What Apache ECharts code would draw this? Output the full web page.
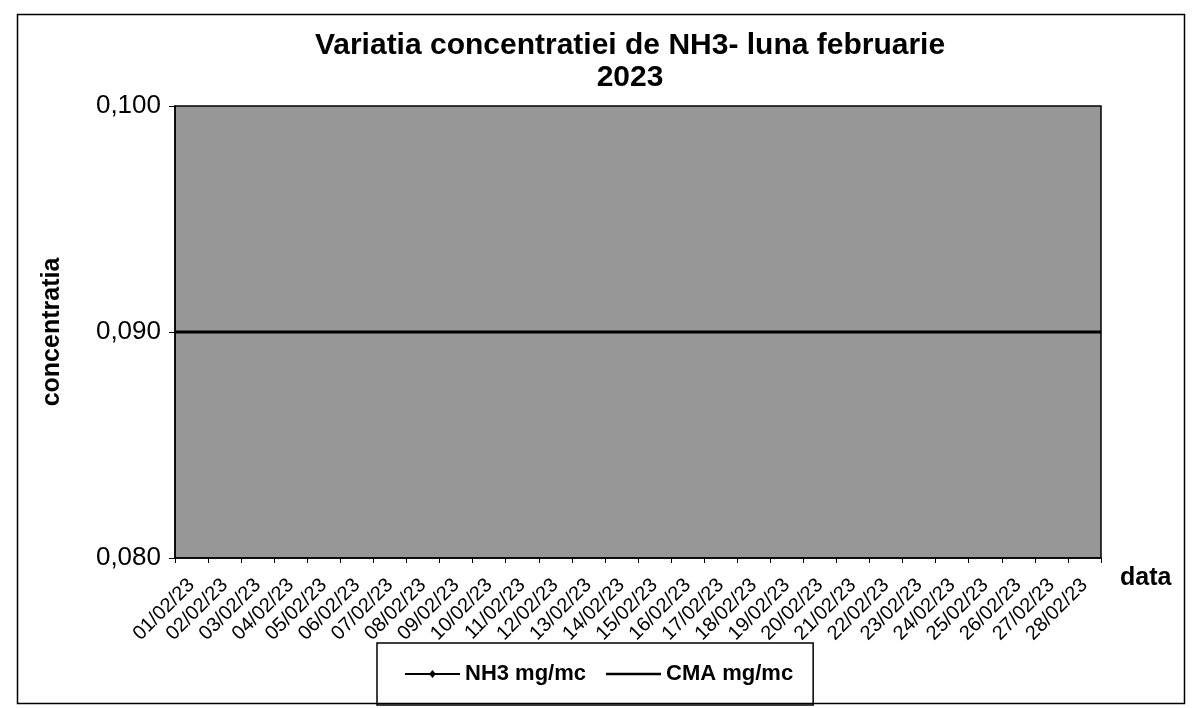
<!DOCTYPE html>
<html>
<head>
<meta charset="utf-8">
<script src="https://cdn.jsdelivr.net/npm/echarts@6/dist/echarts.min.js"></script>
<style>
  html, body { margin: 0; padding: 0; background: #fff; }
  #chart { width: 1196px; height: 708px; }
</style>
</head>
<body>
<div id="chart"></div>
<script>
// Categories (days of February 2023)
const dates = ['01/02/23','02/02/23','03/02/23','04/02/23','05/02/23','06/02/23','07/02/23',
  '08/02/23','09/02/23','10/02/23','11/02/23','12/02/23','13/02/23','14/02/23',
  '15/02/23','16/02/23','17/02/23','18/02/23','19/02/23','20/02/23','21/02/23',
  '22/02/23','23/02/23','24/02/23','25/02/23','26/02/23','27/02/23','28/02/23'];
// NH3 measured values: all below the visible 0,080 axis minimum (not visible in the plot)
const nh3 = [0.02,0.02,0.02,0.02,0.02,0.02,0.02,0.02,0.02,0.02,0.02,0.02,0.02,0.02,
  0.02,0.02,0.02,0.02,0.02,0.02,0.02,0.02,0.02,0.02,0.02,0.02,0.02,0.02];
// CMA limit value
const cma = [0.09,0.09,0.09,0.09,0.09,0.09,0.09,0.09,0.09,0.09,0.09,0.09,0.09,0.09,
  0.09,0.09,0.09,0.09,0.09,0.09,0.09,0.09,0.09,0.09,0.09,0.09,0.09,0.09];
const yTicks = { min: 0.08, max: 0.10, interval: 0.01 };

const chart = echarts.init(document.getElementById('chart'), null, { renderer: 'canvas' });
const FONT = 'Liberation Sans, Arial, sans-serif';
chart.setOption({
  backgroundColor: '#ffffff',
  animation: false,
  graphic: [
    { type: 'rect', shape: { x: 17.5, y: 14.5, width: 1167, height: 689 },
      style: { fill: 'none', stroke: '#000', lineWidth: 1.5 }, silent: true, z: -10 },
    { type: 'text', x: 630, y: 30,
      style: { text: 'Variatia concentratiei de NH3- luna februarie\n2023', textAlign: 'center',
        font: 'bold 30px ' + FONT, fill: '#000', lineHeight: 32 } }
  ],
  grid: {
    left: 175, top: 106, right: 95, bottom: 150,
    show: true, backgroundColor: '#979797', borderColor: '#000', borderWidth: 1.5
  },
  legend: {
    left: 377, top: 643,
    borderColor: '#000', borderWidth: 1.5, padding: [20, 20, 20, 28],
    itemGap: 20, itemWidth: 55, itemHeight: 22,
    textStyle: { fontFamily: FONT, fontWeight: 'bold', fontSize: 22, color: '#000' },
    data: [
      { name: 'NH3 mg/mc', icon: 'path://M0,10 L25,10 L27.5,7 L30,10 L55,10 L55,12 L30,12 L27.5,15 L25,12 L0,12 Z' },
      { name: 'CMA mg/mc', icon: 'path://M0,10 L55,10 L55,12.5 L0,12.5 Z' }
    ]
  },
  xAxis: [{
    type: 'category',
    data: dates,
    boundaryGap: true,
    name: 'data',
    nameLocation: 'end',
    nameGap: 19,
    nameTextStyle: { fontFamily: FONT, fontWeight: 'bold', fontSize: 25, color: '#000',
      verticalAlign: 'top', padding: [8, 0, 0, 0] },
    axisLine: { show: true, lineStyle: { color: '#000', width: 1.5 } },
    axisTick: { show: true, alignWithLabel: false, length: 5, lineStyle: { color: '#000' } },
    axisLabel: { interval: 0, rotate: 45, fontFamily: FONT, fontSize: 20, color: '#000', margin: 24 },
    splitLine: { show: false }
  }, {
    type: 'category',
    data: dates,
    boundaryGap: false,
    show: false
  }],
  yAxis: {
    type: 'value',
    min: yTicks.min, max: yTicks.max, interval: yTicks.interval,
    name: 'concentratia',
    nameLocation: 'middle',
    nameGap: 110,
    nameTextStyle: { fontFamily: FONT, fontWeight: 'bold', fontSize: 25, color: '#000' },
    axisLine: { show: true, lineStyle: { color: '#000', width: 1.5 } },
    axisTick: { show: true, length: 6, lineStyle: { color: '#000' } },
    axisLabel: { fontFamily: FONT, fontSize: 26, color: '#000', margin: 14,
      formatter: v => v.toFixed(3).replace('.', ',') },
    splitLine: { show: false }
  },
  series: [
    { name: 'NH3 mg/mc', type: 'line', data: nh3, clip: true, xAxisIndex: 0,
      symbol: 'diamond', symbolSize: 8,
      itemStyle: { color: '#000' }, lineStyle: { color: '#000', width: 2 } },
    { name: 'CMA mg/mc', type: 'line', data: cma, clip: true, xAxisIndex: 1,
      symbol: 'none',
      itemStyle: { color: '#000' }, lineStyle: { color: '#000', width: 3 } }
  ]
});
</script>
</body>
</html>
